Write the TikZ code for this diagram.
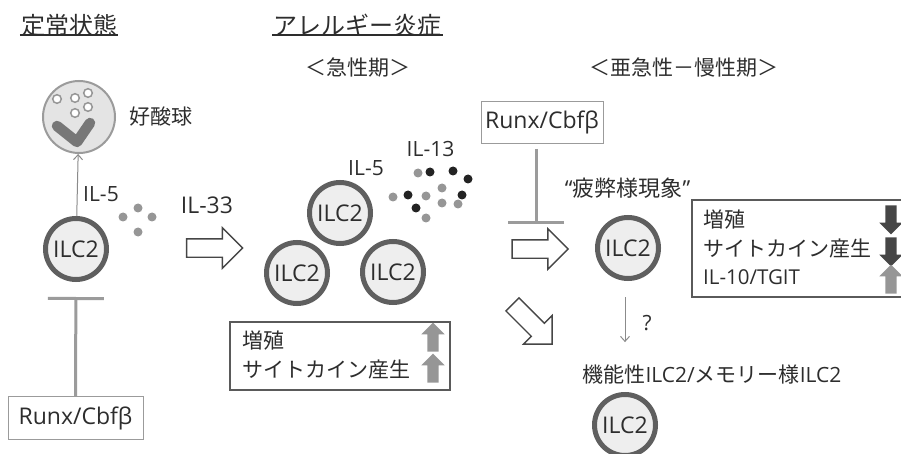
\documentclass[tikz,border=0pt]{standalone}
\usepackage{fontspec}
\setmainfont{Open Sans}
\newfontfamily\jp{Noto Sans CJK JP}
\usetikzlibrary{arrows.meta, shapes.arrows, positioning}
\definecolor{inkgray}{RGB}{45,45,45}
\definecolor{cellrim}{RGB}{95,95,95}
\definecolor{cellfill}{RGB}{238,238,238}
\definecolor{linegray}{RGB}{155,155,155}
\definecolor{dotgray}{RGB}{150,150,150}
\definecolor{dotdark}{RGB}{35,35,35}
\definecolor{boxrim}{RGB}{90,90,90}
\definecolor{downgray}{RGB}{70,70,70}

\begin{document}
\begin{tikzpicture}[
    x=1pt, y=-1pt,
    every node/.style={text=inkgray},
    cell/.style={circle, draw=cellrim, line width=5pt, fill=cellfill,
                 minimum size=61pt, inner sep=0pt, font=\fontsize{23}{23}\selectfont},
    eosin/.style={circle, draw=linegray, line width=2pt, fill=cellfill!96!black,
                  minimum size=72pt, inner sep=0pt},
    granule/.style={draw=dotgray, line width=1.5pt, fill=white},
    heading/.style={inner sep=1pt, font=\fontsize{24}{24}\selectfont\jp},
    headline/.style={draw=inkgray, line width=1.4pt},
    phase/.style={inner sep=0pt, font=\fontsize{21}{21}\selectfont\jp},
    runxbox/.style={rectangle, draw=linegray, line width=1pt, fill=white,
                    minimum width=135pt, minimum height=43pt, font=\fontsize{23}{23}\selectfont},
    effbox/.style={rectangle, draw=boxrim, line width=1.3pt},
    efftext/.style={anchor=west, inner sep=0pt, font=\fontsize{21}{21}\selectfont\jp},
    label/.style={inner sep=0pt, font=\fontsize{21}{21}\selectfont},
    bigarrow/.style={single arrow, draw=downgray, line width=1.4pt, fill=white,
                     minimum height=56pt, inner sep=0pt, inner ysep=8.5pt,
                     single arrow head extend=11pt},
    blockarrow/.style={single arrow, draw=none, minimum height=29pt, inner sep=0pt,
                       inner ysep=5.5pt, single arrow head extend=6pt},
    uparrow/.style={blockarrow, fill=dotgray, rotate=90},
    downarrow/.style={blockarrow, fill=downgray, rotate=-90},
    thinarrow/.style={-{Straight Barb[length=5pt, width=9pt]}, draw=linegray!90!black, line width=1pt},
    inhibit/.style={-{Bar[width=56pt, line width=3pt]}, draw=linegray, line width=3pt}
]
    \useasboundingbox (0,0) rectangle (901,454);

    % headings
    \node[heading] (hsteady) at (69,25) {定常状態};
    \node[heading] (hallergy) at (357.5,25) {アレルギー炎症};
    \draw[headline] ([yshift=2.5pt]hsteady.south west) -- ([yshift=2.5pt]hsteady.south east);
    \draw[headline] ([yshift=2.5pt]hallergy.south west) -- ([yshift=2.5pt]hallergy.south east);
    \node[phase] (pacute) at (357.5,68) {＜急性期＞};
    \node[phase] (pchronic) at (684,68) {＜亜急性－慢性期＞};

    % steady state
    \node[eosin] (eos) at (79,117) {};
    \foreach \dx/\dy in {-22/-18, -4/-19, 9/-24, 9/-10, -4/-4}
        \draw[granule] ([shift={(\dx,\dy)}]eos.center) circle (4.3);
    \draw[draw=cellrim!85!white, line width=10.5pt, line cap=round, line join=round]
        ([shift={(-22,9)}]eos.center) -- ([shift={(-2,25)}]eos.center) -- ([shift={(11,6)}]eos.center);
    \node[label, right=13pt of eos, font=\fontsize{21}{21}\selectfont\jp] (eoslabel) {好酸球};

    \node[cell] (c0) at (76,249) {ILC2};
    \draw[thinarrow] (c0) -- (eos);
    \node[label] (il5a) at (101,194) {IL-5};
    \foreach \px/\py in {123/217, 138/208, 152/217, 138/232}
        \fill[dotgray] (\px,\py) circle (4.5);

    \node[runxbox] (runx1) at (75.5,418) {Runx/Cbfβ};
    \draw[inhibit, shorten >=15pt] (runx1) -- (c0);

    % acute phase
    \node[label, font=\fontsize{23}{23}\selectfont] (il33) at (207,205) {IL-33};
    \node[bigarrow] (il33arrow) at (210,248) {};

    \node[cell] (c1) at (340,213) {ILC2};
    \node[cell] (c2) at (297,273) {ILC2};
    \node[cell] (c5) at (393,272) {ILC2};
    \node[label] (il5b) at (366,168.5) {IL-5};
    \node[label] (il13) at (430.5,149.5) {IL-13};
    \foreach \px/\py/\col in {418/173/dotgray, 430/172/dotdark, 453/171/dotdark, 468/179/dotdark,
                              393/197/dotgray, 408/195/dotdark, 426/196/dotgray, 442/188/dotgray,
                              462/195/dotdark, 442/203/dotgray, 458/204/dotgray, 416/208/dotdark,
                              426/218/dotgray}
        \fill[\col] (\px,\py) circle (4.5);

    \node[effbox, minimum width=220pt, minimum height=68pt] (effacute) at (340,356) {};
    \node[efftext] (acuteA) at (242,341) {増殖};
    \node[efftext] (acuteB) at (242,370) {サイトカイン産生};
    \node[uparrow] (acuteAup) at (433,340) {};
    \node[uparrow] (acuteBup) at (433,371) {};

    % subacute / chronic phase
    \node[runxbox, minimum width=122pt, minimum height=42pt] (runx2) at (542,122.5) {Runx/Cbfβ};
    \node[bigarrow] (chronarrow) at (535.5,249) {};
    \coordinate (blk2) at (536,224);
    \draw[inhibit, shorten <=5pt] (runx2.south -| blk2) -- (blk2);

    \node[label, font=\fontsize{22}{22}\selectfont] (exhaust) at (627.5,188) {“{\jp 疲弊様現象}”};
    \node[cell] (c3) at (628,248) {ILC2};

    \node[effbox, minimum width=222pt, minimum height=97pt] (effchronic) at (803,248.5) {};
    \node[efftext] (chronA) at (703,220) {増殖};
    \node[efftext] (chronB) at (703,248.5) {サイトカイン産生};
    \node[efftext, font=\fontsize{20.5}{20.5}\selectfont] (chronC) at (703,277) {IL-10/TGIT};
    \node[downarrow] (chronAdown) at (891,217) {};
    \node[downarrow] (chronBdown) at (891,249) {};
    \node[uparrow] (chronCup) at (891,282) {};

    \node[bigarrow, rotate=-45] (memarrow) at (529,321) {};
    \node[label] (memlabel) at (712,375) {{\jp 機能性}ILC2/{\jp メモリー様}ILC2};
    \node[cell] (c4) at (625,425) {ILC2};
    \draw[thinarrow, shorten <=16pt, shorten >=23pt] (c4 |- c3.south) -- (c4 |- memlabel.north)
        node[midway, right=17pt, label] (qmark) {?};
\end{tikzpicture}
\end{document}
